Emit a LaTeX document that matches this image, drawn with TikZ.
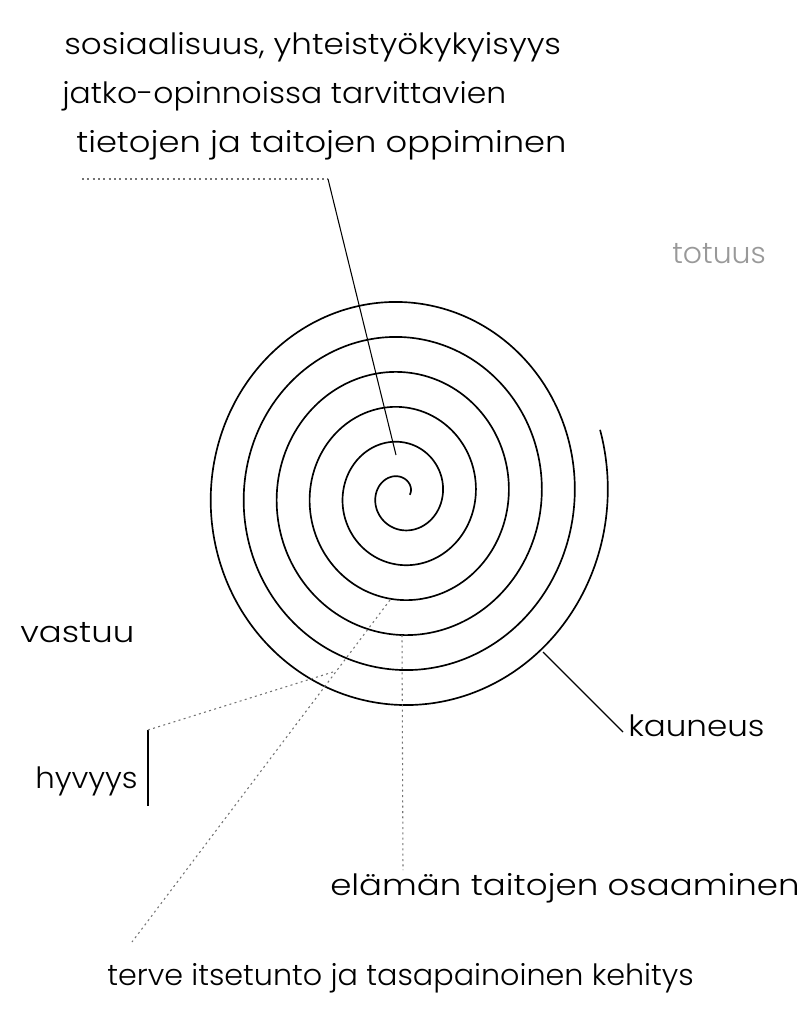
\documentclass[tikz,border=0pt]{standalone}
\usepackage{fontspec}
\setmainfont{Poppins}[UprightFont=* Light]
\newcommand{\sx}[2]{\scalebox{#1}[1]{#2}}
\begin{document}
\begin{tikzpicture}[x=0.75pt,y=-0.75pt,
  lbl/.style={anchor=base west, inner sep=0pt, font=\fontsize{22}{26}\selectfont},
  spiralline/.style={line width=1.25pt},
  leader/.style={line width=0.8pt},
  dotleader/.style={line width=0.8pt, black!55, dash pattern=on 1.5pt off 2.5pt},
]
\useasboundingbox (0,0) rectangle (812,1010);
% spiral
\draw[spiralline] plot[domain=0:38, samples=900, smooth]
  ({401+(8.75+5.252*\x)*cos(\x r)}, {494.75-(9+5.57*\x)*sin(\x r)});
% labels
\node[lbl] (t1) at (64,54) {\sx{1.11}{sosiaalisuus, yhteistyökykyisyys}};
\node[lbl] (t2) at (62,103) {\sx{1.07}{jatko-opinnoissa tarvittavien}};
\node[lbl] (t3) at (76,152) {\sx{1.15}{tietojen ja taitojen oppiminen}};
\node[lbl, text=black!40] (tot) at (672,263) {\sx{1.02}{totuus}};
\node[lbl] (vas) at (20,642) {\sx{1.16}{vastuu}};
\node[lbl] (hyv) at (35,788) {\sx{1.05}{hyvyys}};
\node[lbl] (kau) at (628,736) {\sx{1.11}{kauneus}};
\node[lbl] (ela) at (330,895) {\sx{1.16}{elämän taitojen osaaminen}};
\node[lbl] (ter) at (107,985) {\sx{1.03}{terve itsetunto ja tasapainoinen kehitys}};
% leader coordinates
\coordinate (ul) at (82,179);
\coordinate (bend) at (328,179);
\coordinate (cen) at (396,455);
\coordinate (kauA) at (543,652);
\coordinate (kauB) at (623,732);
\coordinate (barT) at (148,730);
\coordinate (barB) at (148,806);
\coordinate (hyvE) at (333,672);
\coordinate (diagA) at (390,600);
\coordinate (diagB) at (132,942);
\coordinate (elaA) at (402,635);
\coordinate (elaB) at (403,870);
% leaders
\draw[dotleader] (ul) -- (bend);
\draw[leader] (bend) -- (cen);
\draw[leader] (kauA) -- (kauB);
\draw[line width=1.2pt] (barT) -- (barB);
\draw[dotleader] (barT) -- (hyvE);
\draw[dotleader] (diagA) -- (diagB);
\draw[dotleader] (elaA) -- (elaB);
\end{tikzpicture}
\end{document}
